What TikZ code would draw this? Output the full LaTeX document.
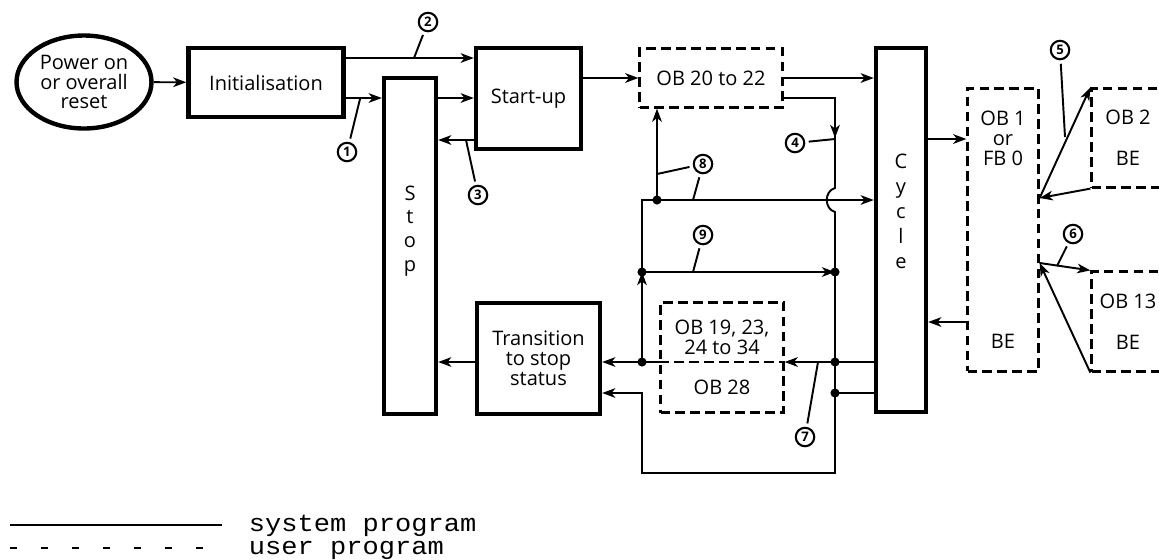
\documentclass[tikz,border=0pt]{standalone}
\usepackage{fontspec}
\setmainfont{Open Sans}
\newfontfamily\legendfont[FakeStretch=1.1]{Liberation Mono}
\usetikzlibrary{arrows.meta,shapes.geometric}

\begin{document}
\begin{tikzpicture}[x=0.02cm, y=-0.02cm, line width=1.1pt,
   font=\fontsize{11.4pt}{11.3pt}\selectfont,
   sysbox/.style={draw, line width=2.5pt, align=center, inner sep=0pt},
   userline/.style={line width=1.3pt, dash pattern=on 5.5pt off 3pt},
   userbox/.style={draw, userline, align=center, inner sep=0pt},
   arr/.style={-{Stealth[length=7.5pt,width=5.5pt,inset=2.2pt]}},
   num/.style={circle, draw, line width=1.2pt, inner sep=0pt, minimum size=10.5pt,
               font=\fontsize{7.5pt}{7.5pt}\selectfont\bfseries},
   leader/.style={shorten <=2pt},
   legend/.style={anchor=base west, inner sep=0pt, text height=8pt, text depth=1.5pt,
               font=\legendfont\fontsize{14pt}{14pt}\selectfont}]
   \useasboundingbox (0,0) rectangle (1159,559);

   % blocks
   \node[sysbox, ellipse, minimum width=2.7cm, minimum height=1.86cm] (power) at (84,82) {Power on\\or overall\\reset};
   \node[sysbox, minimum width=3.1cm, minimum height=1.38cm] (init) at (266,82.5) {Initialisation};
   \node[sysbox, minimum width=2.1cm, minimum height=2.02cm] (startup) at (528.5,98.5) {Start-up};
   \node[sysbox, minimum width=1.04cm, minimum height=6.72cm] (stop) at (410,246) {};
   \node[align=center, font=\fontsize{11.4pt}{13.6pt}\selectfont] (stoptxt) at (410,231) {S\\t\\o\\p};
   \node[userbox, minimum width=2.86cm, minimum height=1.18cm] (ob20) at (711,78) {OB 20 to 22};
   \node[sysbox, minimum width=1.0cm, minimum height=7.28cm] (cycle) at (901,230) {};
   \node[align=center, font=\fontsize{11.4pt}{14.2pt}\selectfont] (cycletxt) at (901,211) {C\\y\\c\\l\\e};
   \node[userbox, minimum width=1.42cm, minimum height=5.66cm] (ob1) at (1003,230) {OB 1\\or\\FB 0\\[93pt]BE};
   \node[userbox, minimum width=1.46cm, minimum height=1.98cm] (ob2) at (1128,138) {OB 2\\[11.9pt]BE};
   \node[userbox, minimum width=1.46cm, minimum height=2.0cm] (ob13) at (1128,321.5) {OB 13\\[12pt]BE};
   \node[userbox, minimum width=2.46cm, minimum height=2.2cm] (ob19) at (722,357.5) {OB 19, 23,\\24 to 34\\[11.3pt]OB 28};
   \node[sysbox, minimum width=2.46cm, minimum height=2.22cm] (trans) at (538.5,358.5) {Transition\\to stop\\status};

   % junctions
   \coordinate (j1) at (642,200);
   \coordinate (d8) at (657,200);
   \coordinate (d9l) at (642,272);
   \coordinate (d9r) at (835,272);
   \coordinate (d7l) at (642,362);
   \coordinate (d7r) at (835,362);
   \coordinate (d28) at (835,393);
   \coordinate (bl) at (642,473);
   \coordinate (br) at (835,473);
   \coordinate (p5) at (ob1.east |- 0,198);
   \coordinate (p6) at (ob1.east |- 0,263);

   % left part
   \draw[arr] (power) -- (init);
   \draw[arr] (init.east |- 0,58) -- (startup.west |- 0,58);
   \draw[arr] (init.east |- 0,98) -- (stop.west |- 0,98);
   \draw[arr] (stop.east |- 0,98) -- (startup.west |- 0,98);
   \draw[arr] (startup.west |- 0,140) -- (stop.east |- 0,140);
   \draw[arr] (startup.east |- ob20) -- (ob20.west);
   \draw[arr] (ob20.east) -- (cycle.west |- ob20);
   \draw[arr] (trans.west |- d7l) -- (stop.east |- d7l);

   % middle part
   \draw[arr] (ob20.east |- 0,98) -| (835,138);
   \draw[arr] (835,130) -- (835,188) .. controls (824,191) and (824,209) .. (835,212)
      -- (br) -- (bl) |- (trans.east |- d28);
   \draw (cycle.west |- d28) -- (d28);
   \draw[arr] (cycle.west |- d7r) -- (ob19.east |- d7r);
   \draw[userline] (ob19.west |- d7r) -- (ob19.east |- d7r);
   \draw[arr] (ob19.west |- d7l) -- (trans.east |- d7l);
   \draw[arr] (d7l) -- (d9l);
   \draw[arr] (d9l) -- (j1) -- (cycle.west |- j1);
   \draw[arr] (d8) -- (ob20.south -| d8);
   \draw[arr] (d9l) -- (d9r);
   \foreach \d in {d8,d9l,d9r,d7l,d7r,d28}
      \fill (\d) circle[radius=2.6pt];

   % right part
   \draw[arr] (cycle.east |- 0,139) -- (ob1.west |- 0,139);
   \draw[arr] (ob1.west |- 0,322) -- (cycle.east |- 0,322);
   \draw[arr] (p5) -- (ob2.north west);
   \draw[arr] (ob2.south west) -- (p5);
   \draw[arr] (p6) -- (ob13.north west);
   \draw[arr] (ob13.south west) -- (p6);

   % numbered marks
   \foreach \i/\x/\y in {1/347/152, 2/428/22, 3/478/195, 4/795/143, 5/1060/50,
                         6/1073/234, 7/805/437, 8/703/164, 9/703/235}
      \node[num] (n\i) at (\x,\y) {\i};
   \draw[leader] (n1) -- (360,99);
   \draw[leader] (n2) -- (414,58);
   \draw[leader] (n3) -- (466,140);
   \draw[leader] (n4) -- (835,139);
   \draw[leader] (n5) -- (1065,137);
   \draw[leader] (n6) -- (1057,266);
   \draw[leader] (n7) -- (818,362);
   \draw[leader] (n8) -- (657,174);
   \draw[leader] (n8) -- (693,200);
   \draw[leader] (n9) -- (693,272);

   % legend
   \draw[line width=1pt] (10,525) -- (222,525);
   \draw[line width=1pt, dash pattern=on 4pt off 13.6pt] (10,548) -- (204,548);
   \node[legend] (sys) at (248,531) {system program};
   \node[legend] (usr) at (248,554) {user program};
\end{tikzpicture}
\end{document}
